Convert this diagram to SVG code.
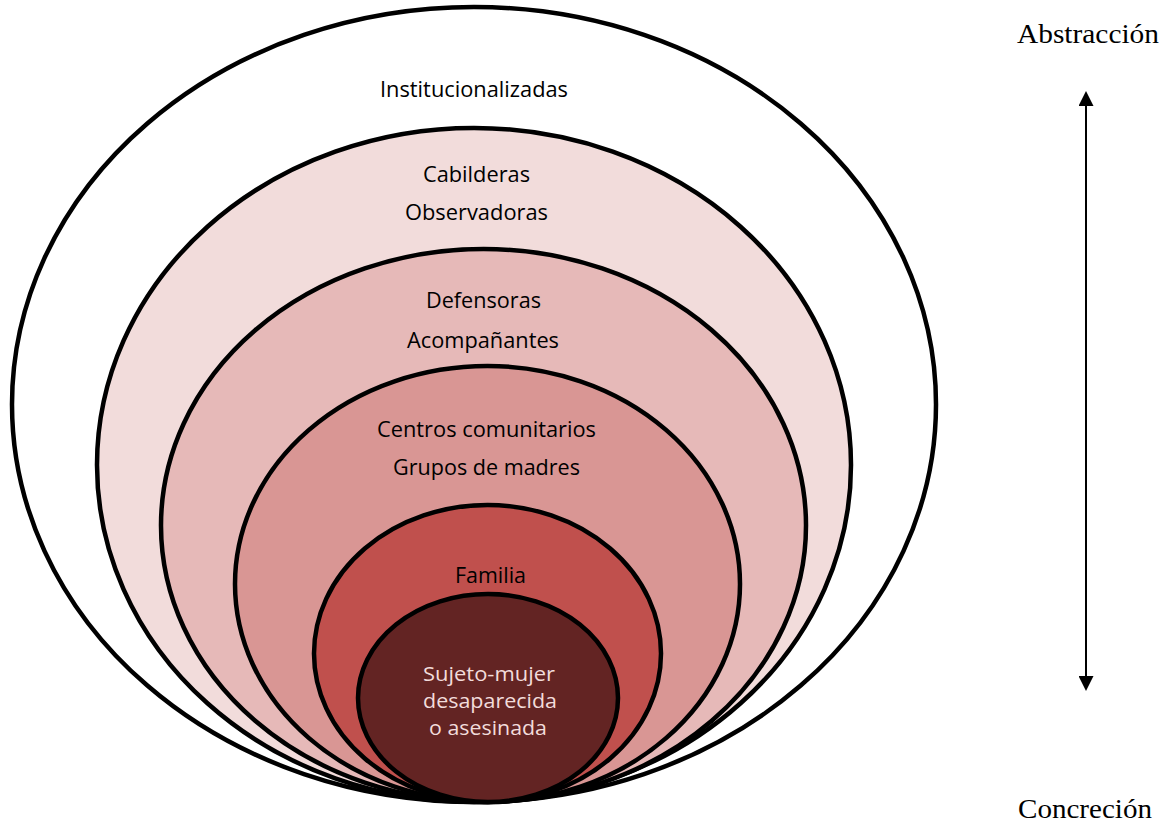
<svg xmlns="http://www.w3.org/2000/svg" width="1167" height="824" viewBox="0 0 1167 824">
<style>
.ring{stroke:#000;stroke-width:4.5}
.lbl{font-family:"Open Sans",Lato,sans-serif;font-size:21px;fill:#000;text-anchor:middle}
.inner{fill:#F2DCDB;font-size:20px}
.axis{font-family:"Liberation Serif",serif;font-size:27px;fill:#000;text-anchor:middle}
</style>
<defs>
<marker id="ah" viewBox="0 0 10 10" refX="6" refY="5" markerWidth="15" markerHeight="15" preserveAspectRatio="none" markerUnits="userSpaceOnUse" orient="auto-start-reverse">
<path d="M0,0 L10,5 L0,10 z" fill="#000"/>
</marker>
</defs>
<rect width="1167" height="824" fill="#fff"/>
<g id="n1"><ellipse class="ring" cx="474" cy="404.5" rx="462" ry="397.5" fill="#fff"/><text class="lbl" x="474" y="97" textLength="188" lengthAdjust="spacingAndGlyphs">Institucionalizadas</text></g>
<g id="n2"><ellipse class="ring" cx="474" cy="465" rx="377" ry="337" fill="#F2DCDB"/><text class="lbl" x="476.5" y="182" textLength="107" lengthAdjust="spacingAndGlyphs">Cabilderas</text><text class="lbl" x="476.5" y="220" textLength="143" lengthAdjust="spacingAndGlyphs">Observadoras</text></g>
<g id="n3"><ellipse class="ring" cx="483.5" cy="525.5" rx="322.5" ry="276.5" fill="#E6B9B8"/><text class="lbl" x="483.5" y="308" textLength="115" lengthAdjust="spacingAndGlyphs">Defensoras</text><text class="lbl" x="483" y="348" textLength="152" lengthAdjust="spacingAndGlyphs">Acompañantes</text></g>
<g id="n4"><ellipse class="ring" cx="487.5" cy="584" rx="252.5" ry="218" fill="#D99694"/><text class="lbl" x="486.5" y="437" textLength="219" lengthAdjust="spacingAndGlyphs">Centros comunitarios</text><text class="lbl" x="486.5" y="475" textLength="187" lengthAdjust="spacingAndGlyphs">Grupos de madres</text></g>
<g id="n5"><ellipse class="ring" cx="487.5" cy="653.5" rx="173.5" ry="148.5" fill="#C0504D"/><text class="lbl" x="490.5" y="583" textLength="71" lengthAdjust="spacingAndGlyphs">Familia</text></g>
<g id="n6"><ellipse class="ring" cx="488" cy="698" rx="130" ry="104" fill="#632423"/><text class="lbl inner" x="489" y="681" textLength="132" lengthAdjust="spacingAndGlyphs">Sujeto-mujer</text><text class="lbl inner" x="490" y="708" textLength="134" lengthAdjust="spacingAndGlyphs">desaparecida</text><text class="lbl inner" x="488" y="735" textLength="118" lengthAdjust="spacingAndGlyphs">o asesinada</text></g>
<g id="connectors"><line x1="1086" y1="97" x2="1086" y2="685" stroke="#000" stroke-width="2" marker-start="url(#ah)" marker-end="url(#ah)"/></g>
<g id="axis-labels"><text class="axis" x="1088" y="43" textLength="142" lengthAdjust="spacingAndGlyphs">Abstracción</text><text class="axis" x="1085" y="818" textLength="134" lengthAdjust="spacingAndGlyphs">Concreción</text></g>
</svg>
